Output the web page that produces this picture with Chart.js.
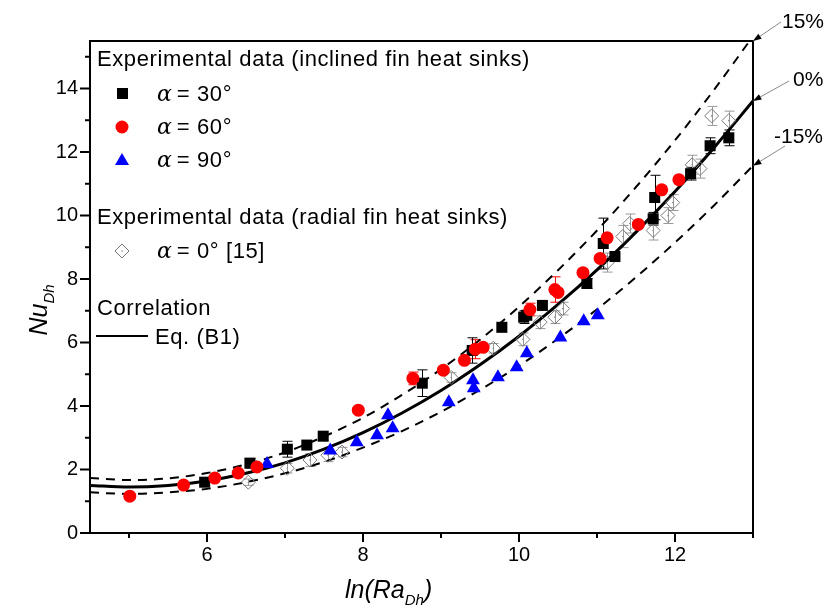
<!DOCTYPE html>
<html>
<head>
<meta charset="utf-8">
<script src="https://cdn.jsdelivr.net/npm/chart.js@4.4.1/dist/chart.umd.min.js"></script>
<style>
body{margin:0;background:#fff;}
#wrap{position:relative;width:828px;height:610px;font-family:"Liberation Sans",Arial,sans-serif;color:#000;}
#wrap canvas{position:absolute;left:0;top:0;}
.t{position:absolute;white-space:nowrap;line-height:1;}
.leg{font-size:22px;letter-spacing:0.6px;}
.g{font-family:"DejaVu Serif","Liberation Serif",serif;font-style:italic;letter-spacing:0;}
.pct{font-size:21px;}
.ax{font-size:25px;font-style:italic;}
.ax sub{font-size:15px;vertical-align:baseline;position:relative;top:7px;}
</style>
</head>
<body>
<div id="wrap">
<canvas id="chart" width="828" height="610"></canvas>
<div class="t leg" style="left:97px;top:48px">Experimental data (inclined fin heat sinks)</div>
<div class="t leg" style="left:157px;top:83px"><span class="g">α</span>&thinsp;= 30°</div>
<div class="t leg" style="left:157px;top:116px"><span class="g">α</span>&thinsp;= 60°</div>
<div class="t leg" style="left:157px;top:149px"><span class="g">α</span>&thinsp;= 90°</div>
<div class="t leg" style="left:97px;top:206px">Experimental data (radial fin heat sinks)</div>
<div class="t leg" style="left:157px;top:240px"><span class="g">α</span>&thinsp;= 0° [15]</div>
<div class="t leg" style="left:97px;top:297px">Correlation</div>
<div class="t leg" style="left:155px;top:326px">Eq. (B1)</div>
<div class="t pct" style="left:782px;top:10px">15%</div>
<div class="t pct" style="left:793px;top:68px">0%</div>
<div class="t pct" style="left:774px;top:125px">-15%</div>
<div class="t ax" style="left:345px;top:577px">ln(Ra<sub>Dh</sub>)</div>
<div class="t ax" style="left:38px;top:310px;transform:translate(-50%,-50%) rotate(-90deg)">Nu<sub>Dh</sub></div>
</div>
<script>
// axis ranges and ticks
const xMin = 4.5, xMax = 13;
const yMin = 0, yMax = 15.5;
const xMajor = [6, 8, 10, 12];
const xMinor = [5, 7, 9, 11, 13];
const yMajor = [0, 2, 4, 6, 8, 10, 12, 14];
const yMinor = [1, 3, 5, 7, 9, 11, 13, 15];

// correlation Eq. (B1) and the +/-15% bands
const corrX = [4.5, 5, 5.5, 6, 6.5, 7, 7.5, 8, 8.5, 9, 9.5, 10, 10.5, 11, 11.5, 12, 12.5, 13];
const corrY = [1.50, 1.45, 1.50, 1.64, 1.88, 2.21, 2.64, 3.16, 3.78, 4.49, 5.30, 6.20, 7.20, 8.29, 9.48, 10.76, 12.14, 13.61];
const upperY = [1.73, 1.67, 1.72, 1.89, 2.16, 2.54, 3.04, 3.63, 4.35, 5.16, 6.09, 7.13, 8.28, 9.53, 10.90, 12.37, 13.96, 15.65];
const lowerY = [1.28, 1.23, 1.28, 1.39, 1.60, 1.88, 2.24, 2.69, 3.21, 3.82, 4.51, 5.27, 6.12, 7.05, 8.06, 9.15, 10.32, 11.57];

// alpha = 30 deg (squares)
const sqX = [5.97, 6.55, 7.03, 7.28, 7.49, 8.76, 9.40, 9.78, 10.06, 10.10, 10.30, 10.87, 11.08, 11.23, 11.72, 11.74, 12.20, 12.45, 12.69];
const sqY = [1.60, 2.20, 2.64, 2.77, 3.05, 4.72, 5.75, 6.48, 6.80, 6.86, 7.17, 7.86, 9.12, 8.71, 9.90, 10.57, 11.32, 12.20, 12.45];
const sqErr = [0, 0.15, 0.25, 0, 0, 0.42, 0.4, 0, 0.2, 0, 0, 0.15, 0.8, 0, 0.2, 0.7, 0.2, 0.25, 0.25];

// alpha = 60 deg (circles)
const ciX = [5.01, 5.70, 6.10, 6.40, 6.64, 7.94, 8.64, 9.03, 9.30, 9.44, 9.54, 10.14, 10.46, 10.50, 10.82, 11.04, 11.13, 11.53, 11.83, 12.05];
const ciY = [1.16, 1.51, 1.73, 1.89, 2.08, 3.87, 4.87, 5.13, 5.44, 5.79, 5.85, 7.04, 7.67, 7.58, 8.20, 8.65, 9.30, 9.72, 10.81, 11.13];
const ciErr = [0, 0, 0, 0, 0, 0, 0.2, 0, 0, 0.3, 0, 0.2, 0.4, 0, 0, 0, 0, 0, 0, 0];

// alpha = 90 deg (triangles)
const trX = [6.77, 7.58, 7.92, 8.18, 8.32, 8.38, 9.10, 9.41, 9.42, 9.73, 9.97, 10.10, 10.53, 10.83, 11.01];
const trY = [2.17, 2.60, 2.86, 3.08, 3.71, 3.30, 4.12, 4.81, 4.56, 4.91, 5.22, 5.66, 6.16, 6.67, 6.86];

// radial fin heat sinks, alpha = 0 deg [15] (diamonds)
const dmX = [6.53, 7.03, 7.32, 7.55, 7.73, 9.13, 9.67, 10.05, 10.27, 10.46, 10.56, 11.13, 11.33, 11.42, 11.72, 11.91, 11.97, 12.22, 12.32, 12.47, 12.69];
const dmY = [1.60, 2.04, 2.30, 2.45, 2.55, 4.90, 5.82, 6.10, 6.64, 6.80, 7.07, 8.52, 9.34, 9.75, 9.53, 10.00, 10.41, 11.60, 11.48, 13.14, 12.99];
const dmErr = [0.1, 0.15, 0.2, 0.2, 0.15, 0.15, 0.15, 0.2, 0.2, 0.2, 0.2, 0.3, 0.35, 0.3, 0.3, 0.25, 0.25, 0.3, 0.3, 0.3, 0.3];

function pts(xs, ys) {
    return xs.map(function (x, i) { return { x: x, y: ys[i] }; });
}

// error bars, frame, outward ticks, legend symbols and the % arrows
const extras = {
    id: 'extras',
    beforeDatasetsDraw(chart) {
        const ctx = chart.ctx;
        const xs = chart.scales.x, ys = chart.scales.y;
        ctx.save();
        chart.data.datasets.forEach(function (ds) {
            if (!ds.errs) return;
            ctx.strokeStyle = ds.errColor;
            ctx.lineWidth = 1;
            ds.data.forEach(function (p, i) {
                const e = ds.errs[i];
                if (!e) return;
                const px = Math.round(xs.getPixelForValue(p.x)) + 0.5;
                const y1 = ys.getPixelForValue(p.y + e), y2 = ys.getPixelForValue(p.y - e);
                ctx.beginPath();
                ctx.moveTo(px, y1); ctx.lineTo(px, y2);
                ctx.moveTo(px - 5, y1); ctx.lineTo(px + 5, y1);
                ctx.moveTo(px - 5, y2); ctx.lineTo(px + 5, y2);
                ctx.stroke();
            });
        });
        ctx.restore();
    },
    afterDraw(chart) {
        const ctx = chart.ctx;
        const a = chart.chartArea;
        const xs = chart.scales.x, ys = chart.scales.y;
        ctx.save();
        ctx.strokeStyle = '#000';
        ctx.lineWidth = 2;
        ctx.strokeRect(a.left, a.top, a.right - a.left, a.bottom - a.top);
        ctx.beginPath();
        xMajor.forEach(function (v) { const p = xs.getPixelForValue(v); ctx.moveTo(p, a.bottom); ctx.lineTo(p, a.bottom + 9); });
        xMinor.forEach(function (v) { const p = xs.getPixelForValue(v); ctx.moveTo(p, a.bottom); ctx.lineTo(p, a.bottom + 5); });
        yMajor.forEach(function (v) { const p = ys.getPixelForValue(v); ctx.moveTo(a.left, p); ctx.lineTo(a.left - 10, p); });
        yMinor.forEach(function (v) { const p = ys.getPixelForValue(v); ctx.moveTo(a.left, p); ctx.lineTo(a.left - 5, p); });
        ctx.stroke();

        // legend symbols
        ctx.fillStyle = '#000';
        ctx.fillRect(117, 88, 11, 11);
        ctx.fillStyle = '#ff0000';
        ctx.beginPath(); ctx.arc(122, 127, 6.5, 0, Math.PI * 2); ctx.fill();
        ctx.fillStyle = '#0000ff';
        ctx.beginPath(); ctx.moveTo(122, 153); ctx.lineTo(129, 165); ctx.lineTo(115, 165); ctx.closePath(); ctx.fill();
        ctx.strokeStyle = '#777';
        ctx.lineWidth = 1;
        ctx.beginPath(); ctx.moveTo(122, 244); ctx.lineTo(129, 251); ctx.lineTo(122, 258); ctx.lineTo(115, 251); ctx.closePath(); ctx.stroke();
        ctx.fillStyle = '#777';
        ctx.fillRect(121.5, 250.5, 1.2, 1.2);
        ctx.strokeStyle = '#000';
        ctx.lineWidth = 2;
        ctx.beginPath(); ctx.moveTo(96, 336); ctx.lineTo(148, 336); ctx.stroke();

        // arrows from the % labels to the right frame
        const xe = xs.getPixelForValue(xMax);
        const targets = [
            [781, 22, Math.max(ys.getPixelForValue(upperY[upperY.length - 1]), a.top)],
            [789, 81, ys.getPixelForValue(corrY[corrY.length - 1])],
            [785, 146, ys.getPixelForValue(lowerY[lowerY.length - 1])]
        ];
        targets.forEach(function (t) {
            const sx = t[0], sy = t[1], ty = t[2];
            const ang = Math.atan2(ty - sy, xe - sx);
            ctx.strokeStyle = '#8a8a8a';
            ctx.lineWidth = 1;
            ctx.beginPath(); ctx.moveTo(sx, sy); ctx.lineTo(xe, ty); ctx.stroke();
            ctx.fillStyle = '#000';
            ctx.beginPath();
            ctx.moveTo(xe, ty);
            ctx.lineTo(xe - 9 * Math.cos(ang - 0.35), ty - 9 * Math.sin(ang - 0.35));
            ctx.lineTo(xe - 9 * Math.cos(ang + 0.35), ty - 9 * Math.sin(ang + 0.35));
            ctx.closePath();
            ctx.fill();
        });
        ctx.restore();
    }
};

const tickFont = { family: '"Liberation Sans", Arial, sans-serif', size: 20 };

new Chart(document.getElementById('chart'), {
    type: 'scatter',
    data: {
        datasets: [
            {
                label: 'alpha = 60',
                data: pts(ciX, ciY),
                errs: ciErr, errColor: '#ff0000',
                pointStyle: 'circle', pointRadius: 6.5,
                backgroundColor: '#ff0000', borderWidth: 0,
                order: 1
            },
            {
                label: 'alpha = 30',
                data: pts(sqX, sqY),
                errs: sqErr, errColor: '#000',
                pointStyle: 'rect', pointRadius: 7.8,
                backgroundColor: '#000', borderWidth: 0,
                order: 2
            },
            {
                label: 'alpha = 90',
                data: pts(trX, trY),
                pointStyle: 'triangle', pointRadius: 8,
                backgroundColor: '#0000ff', borderWidth: 0,
                order: 3
            },
            {
                label: 'radial dots',
                data: pts(dmX, dmY),
                pointStyle: 'circle', pointRadius: 0.8,
                backgroundColor: '#888', borderWidth: 0,
                order: 4
            },
            {
                label: 'alpha = 0 [15]',
                data: pts(dmX, dmY),
                errs: dmErr, errColor: '#999',
                pointStyle: 'rectRot', pointRadius: 7,
                backgroundColor: 'rgba(255,255,255,0)', borderColor: '#7a7a7a', borderWidth: 1,
                order: 5
            },
            {
                label: 'Eq. (B1)',
                data: pts(corrX, corrY),
                showLine: true, pointRadius: 0,
                borderColor: '#000', borderWidth: 3,
                cubicInterpolationMode: 'monotone',
                order: 6
            },
            {
                label: '+15%',
                data: pts(corrX, upperY),
                showLine: true, pointRadius: 0,
                borderColor: '#000', borderWidth: 2, borderDash: [9, 7],
                cubicInterpolationMode: 'monotone',
                order: 7
            },
            {
                label: '-15%',
                data: pts(corrX, lowerY),
                showLine: true, pointRadius: 0,
                borderColor: '#000', borderWidth: 2, borderDash: [9, 7],
                cubicInterpolationMode: 'monotone',
                order: 8
            }
        ]
    },
    options: {
        responsive: false,
        animation: false,
        layout: { padding: { left: 0, right: 75, top: 41, bottom: 0 } },
        plugins: { legend: { display: false }, tooltip: { enabled: false } },
        scales: {
            x: {
                type: 'linear', min: xMin, max: xMax,
                afterBuildTicks: function (s) { s.ticks = xMajor.map(function (v) { return { value: v }; }); },
                afterFit: function (s) { s.height = 77; },
                grid: { display: false, drawTicks: false },
                border: { display: false },
                ticks: { font: tickFont, color: '#000', padding: 10, maxRotation: 0 }
            },
            y: {
                type: 'linear', min: yMin, max: yMax,
                afterBuildTicks: function (s) { s.ticks = yMajor.map(function (v) { return { value: v }; }); },
                afterFit: function (s) { s.width = 90; },
                grid: { display: false, drawTicks: false },
                border: { display: false },
                ticks: { font: tickFont, color: '#000', padding: 12 }
            }
        }
    },
    plugins: [extras]
});
</script>
</body>
</html>
